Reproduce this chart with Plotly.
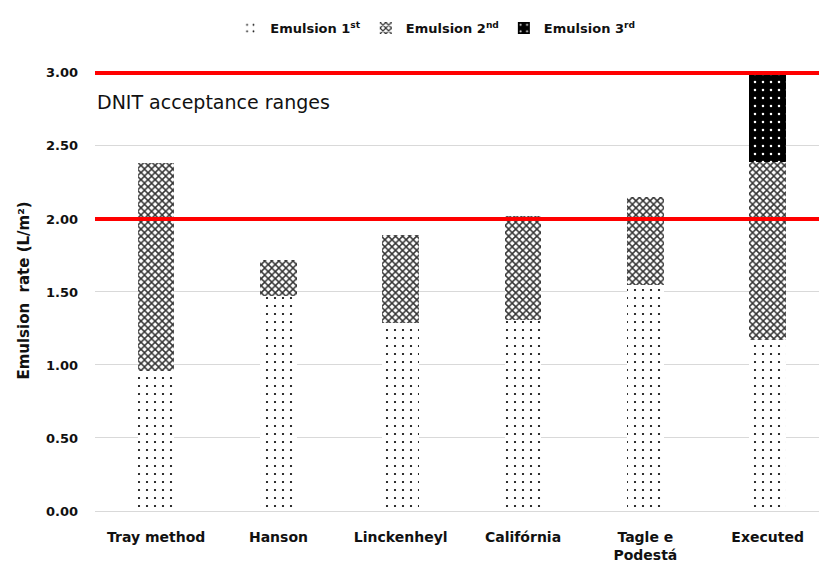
import plotly.graph_objects as go

categories = ["Tray method", "Hanson", "Linckenheyl", "Califórnia", "Tagle e<br>Podestá", "Executed"]
emulsion1 = [0.96, 1.47, 1.29, 1.31, 1.55, 1.17]
emulsion2 = [1.42, 0.25, 0.60, 0.71, 0.60, 1.22]
emulsion3 = [0, 0, 0, 0, 0, 0.60]
dnit_limits = [2.0, 3.0]
y_ticks = [0, 0.5, 1.0, 1.5, 2.0, 2.5, 3.0]

FONT = "DejaVu Sans"
fig = go.Figure()
fig.add_trace(go.Bar(
    x=categories, y=emulsion1, name="Emulsion 1<sup>st</sup>",
    marker=dict(color="white", line=dict(width=0),
                pattern=dict(shape=".", fgcolor="black", bgcolor="white", size=8, solidity=0.06, fgopacity=1)),
))
fig.add_trace(go.Bar(
    x=categories, y=emulsion2, name="Emulsion 2<sup>nd</sup>",
    marker=dict(color="white", line=dict(width=0),
                pattern=dict(shape="x", fgcolor="#333333", bgcolor="white", size=5, solidity=0.5, fgopacity=1)),
))
fig.add_trace(go.Bar(
    x=categories, y=emulsion3, name="Emulsion 3<sup>rd</sup>",
    marker=dict(color="black", line=dict(width=0),
                pattern=dict(shape=".", fgcolor="white", bgcolor="black", size=8, solidity=0.08, fgopacity=1)),
))

for v in dnit_limits:
    fig.add_shape(type="line", xref="paper", yref="y", x0=0, x1=1, y0=v, y1=v,
                  line=dict(color="#ff0000", width=4), layer="above")

fig.add_annotation(text="DNIT acceptance ranges", xref="paper", yref="y", x=0.0, y=2.80,
                   xanchor="left", yanchor="middle", showarrow=False,
                   font=dict(family=FONT, size=19, color="#111111"))

fig.update_layout(
    barmode="stack",
    bargap=0.70,
    width=819, height=571,
    margin=dict(l=95, r=0, t=70, b=60),
    plot_bgcolor="white", paper_bgcolor="white",
    font=dict(family=FONT, size=13, color="#222222"),
    legend=dict(orientation="h", traceorder="normal", x=0.47, xanchor="center", y=1.095, yanchor="middle",
                font=dict(family=FONT, size=13, color="#111111", weight="bold"),
                itemwidth=30, tracegroupgap=0),
    xaxis=dict(range=[-0.5, 5.42], showgrid=False, showline=False, ticks="",
               tickfont=dict(family=FONT, size=14, weight="bold", color="#111111"),
               ticklabelstandoff=16),
    yaxis=dict(range=[0, 3.02], tickvals=y_ticks, tickformat=".2f",
               showgrid=True, gridcolor="#d9d9d9", gridwidth=1,
               zeroline=True, zerolinecolor="#d9d9d9", zerolinewidth=1,
               showline=False, ticks="",
               tickfont=dict(family=FONT, size=13, weight="bold", color="#111111"),
               ticklabelstandoff=16,
               title=dict(text="Emulsion&nbsp; rate (L/m²)", standoff=12,
                          font=dict(family=FONT, size=15, weight="bold", color="#111111"))),
)

fig.write_html("out.html")
